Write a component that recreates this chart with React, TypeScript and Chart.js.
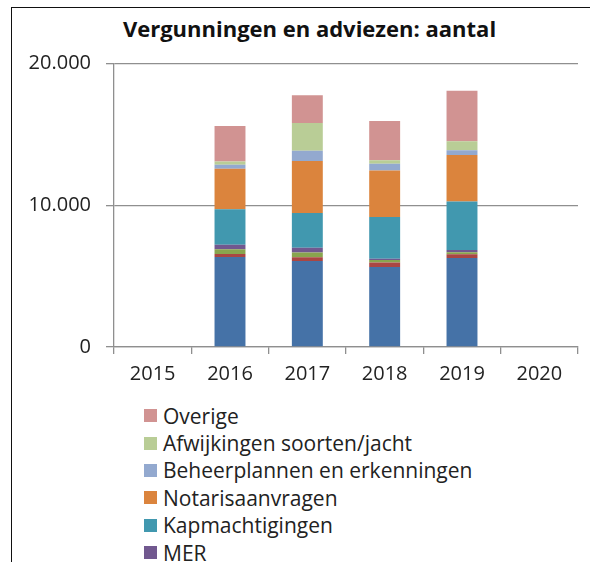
import React, { useEffect, useRef } from "react";
import { Chart, registerables } from "chart.js";

Chart.register(...registerables);

const years = ["2015", "2016", "2017", "2018", "2019", "2020"];

// stacking order bottom -> top
const seriesNames = [
  "Omgevingsvergunningen",
  "Natuurvergunningen",
  "Ontheffingen",
  "MER",
  "Kapmachtigingen",
  "Notarisaanvragen",
  "Beheerplannen en erkenningen",
  "Afwijkingen soorten/jacht",
  "Overige",
];

const omgeving = [null, 6350, 6060, 5640, 6280, null];
const natuur = [null, 210, 280, 330, 260, null];
const ontheffingen = [null, 330, 330, 160, 140, null];
const mer = [null, 330, 330, 100, 160, null];
const kap = [null, 2500, 2450, 2940, 3420, null];
const notaris = [null, 2850, 3680, 3280, 3290, null];
const beheer = [null, 280, 710, 470, 330, null];
const afwijkingen = [null, 240, 1960, 260, 640, null];
const overige = [null, 2500, 1960, 2760, 3560, null];

const seriesValues = [omgeving, natuur, ontheffingen, mer, kap, notaris, beheer, afwijkingen, overige];

const colors = [
  "#4572a7",
  "#aa4643",
  "#89a54e",
  "#71588f",
  "#4198af",
  "#db843d",
  "#93a9cf",
  "#b9cd96",
  "#d19392",
];

const yTicks = [0, 10000, 20000];

const chartTitle = "Vergunningen en adviezen: aantal";

const FONT = "'Open Sans', 'DejaVu Sans', sans-serif";

function fmt(v: number) {
  return String(v).replace(/\B(?=(\d{3})+(?!\d))/g, ".");
}

export default function App() {
  const ref = useRef<HTMLCanvasElement | null>(null);

  useEffect(() => {
    if (!ref.current) return;
    const chart = new Chart(ref.current, {
      type: "bar",
      data: {
        labels: years,
        datasets: seriesNames.map((name, i) => ({
          label: name,
          data: seriesValues[i] as any,
          backgroundColor: colors[i],
          borderWidth: 0,
          barPercentage: 0.4,
          categoryPercentage: 1,
        })),
      },
      options: {
        animation: false,
        responsive: true,
        maintainAspectRatio: false,
        layout: { padding: { left: 0, right: 12, top: 63.5, bottom: 0 } },
        plugins: {
          legend: { display: false },
          tooltip: { enabled: false },
          title: { display: false },
        },
        scales: {
          x: {
            stacked: true,
            grid: {
              offset: true,
              drawOnChartArea: false,
              drawTicks: true,
              tickLength: 7,
              color: "#8f8f8f",
              lineWidth: 1.3,
            },
            border: { display: true, color: "#8f8f8f", width: 1.3 },
            ticks: {
              color: "#222",
              font: { family: FONT, size: 20 },
              padding: 8,
              maxRotation: 0,
            },
            afterFit: (s: any) => {
              s.height = 50;
            },
          },
          y: {
            stacked: true,
            min: 0,
            max: 20000,
            afterBuildTicks: (s: any) => {
              s.ticks = yTicks.map((v) => ({ value: v }));
            },
            grid: {
              drawTicks: true,
              tickLength: 8,
              color: "#8f8f8f",
              lineWidth: 1.3,
            },
            border: { display: true, color: "#8f8f8f", width: 1.3 },
            ticks: {
              color: "#222",
              font: { family: FONT, size: 20 },
              padding: 15,
              callback: (v: any) => fmt(Number(v)),
            },
            afterFit: (s: any) => {
              s.width = 114;
            },
          },
        },
      },
    });
    return () => chart.destroy();
  }, []);

  const legendOrder = seriesNames.map((n, i) => i).reverse();

  return (
    <div
      style={{
        position: "fixed",
        left: 0,
        top: 0,
        width: 590,
        height: 562,
        overflow: "hidden",
        background: "#fff",
      }}
    >
      <div
        style={{
          position: "absolute",
          left: 11,
          top: 7,
          width: 700,
          height: 700,
          borderLeft: "1.3px solid #111",
          borderTop: "1.3px solid #111",
        }}
      />
      <div
        style={{
          position: "absolute",
          left: 109.5,
          top: 16.5,
          width: 400,
          textAlign: "center",
          fontFamily: FONT,
          fontWeight: "bold",
          fontSize: 22,
          lineHeight: "22px",
          color: "#111",
          whiteSpace: "nowrap",
        }}
      >
        {chartTitle}
      </div>
      <div style={{ position: "absolute", left: 0, top: 0, width: 590, height: 397 }}>
        <canvas ref={ref} />
      </div>
      <div
        style={{
          position: "absolute",
          left: 144,
          top: 402,
          fontFamily: FONT,
          fontSize: 21,
          color: "#222",
        }}
      >
        {legendOrder.map((i) => (
          <div
            key={seriesNames[i]}
            style={{ display: "flex", alignItems: "center", height: 27.4, whiteSpace: "nowrap" }}
          >
            <span
              style={{
                display: "inline-block",
                width: 13,
                height: 13,
                background: colors[i],
                marginRight: 6,
              }}
            />
            <span>{seriesNames[i]}</span>
          </div>
        ))}
      </div>
    </div>
  );
}
